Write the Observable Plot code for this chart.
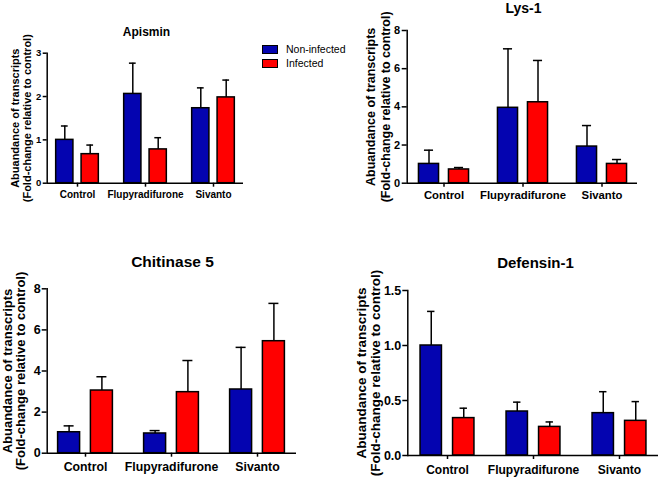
<!DOCTYPE html>
<html>
<head>
<meta charset="utf-8">
<script src="https://cdn.jsdelivr.net/npm/d3@7"></script>
<script src="https://cdn.jsdelivr.net/npm/@observablehq/plot@0.6"></script>
<style>
  body { margin: 0; background: #fff; }
  #wrap { position: relative; width: 659px; height: 477px; background: #fff; font-family: "Liberation Sans", Arial, sans-serif; overflow: hidden; }
  .panel { position: absolute; }
  .legend { position: absolute; left: 262px; top: 42px; font-size: 10.5px; color: #000; }
  .legend .row { display: flex; align-items: center; height: 14px; }
  .legend .sw { width: 14px; height: 7px; border: 1px solid #000; margin-right: 8px; }
</style>
</head>
<body>
<div id="wrap"></div>
<script>
// ---------- data ----------
const groups = ["Control", "Flupyradifurone", "Sivanto"];
const seriesNames = ["Non-infected", "Infected"];
const geneNames = ["Apismin", "Lys-1", "Chitinase 5", "Defensin-1"];
const yLabelLines = ["Abuandance of transcripts", "(Fold-change relative to control)"];

const apisminNonInfected = [1.00, 2.06, 1.73];
const apisminNonInfectedErr = [0.32, 0.71, 0.47];
const apisminInfected = [0.67, 0.78, 1.98];
const apisminInfectedErr = [0.21, 0.27, 0.40];

const lys1NonInfected = [1.01, 3.95, 1.92];
const lys1NonInfectedErr = [0.72, 3.09, 1.10];
const lys1Infected = [0.72, 4.24, 1.01];
const lys1InfectedErr = [0.10, 2.19, 0.23];

const chitinase5NonInfected = [1.02, 0.96, 3.10];
const chitinase5NonInfectedErr = [0.31, 0.14, 2.05];
const chitinase5Infected = [3.05, 2.97, 5.45];
const chitinase5InfectedErr = [0.67, 1.54, 1.84];

const defensin1NonInfected = [1.00, 0.40, 0.385];
const defensin1NonInfectedErr = [0.31, 0.085, 0.195];
const defensin1Infected = [0.34, 0.26, 0.315];
const defensin1InfectedErr = [0.09, 0.045, 0.175];

const yTicksApismin = [0, 1, 2, 3];
const yTicksLys1 = [0, 2, 4, 6, 8];
const yTicksChitinase5 = [0, 2, 4, 6, 8];
const yTicksDefensin1 = [0, 0.5, 1.0, 1.5];

const colors = ["#0404b0", "#ff0000"];

function table(ni, niErr, inf, infErr) {
  const rows = [];
  groups.forEach((g, i) => {
    rows.push({group: g, series: seriesNames[0], mean: ni[i], upper: ni[i] + niErr[i]});
    rows.push({group: g, series: seriesNames[1], mean: inf[i], upper: inf[i] + infErr[i]});
  });
  return rows;
}

const geneData = [
  {name: geneNames[0], rows: table(apisminNonInfected, apisminNonInfectedErr, apisminInfected, apisminInfectedErr), ticks: yTicksApismin, fmt: d => d3.format("d")(d)},
  {name: geneNames[1], rows: table(lys1NonInfected, lys1NonInfectedErr, lys1Infected, lys1InfectedErr), ticks: yTicksLys1, fmt: d => d3.format("d")(d)},
  {name: geneNames[2], rows: table(chitinase5NonInfected, chitinase5NonInfectedErr, chitinase5Infected, chitinase5InfectedErr), ticks: yTicksChitinase5, fmt: d => d3.format("d")(d)},
  {name: geneNames[3], rows: table(defensin1NonInfected, defensin1NonInfectedErr, defensin1Infected, defensin1InfectedErr), ticks: yTicksDefensin1, fmt: d => d3.format(".1f")(d)}
];

// ---------- layout (page pixels) ----------
const layouts = [
  {left: 0, top: 0, width: 330, height: 215, axisX: 46.7, axisRight: 243, y0: 182.7, yTop: 52.7,
   c0: 76.7, step: 68.25, off: 12.7, bw: 17.5, cap: 7,
   titleX: 146, titleY: 32, titleSize: 12, labelX: 21, labelSize: 11, labelLH: 1.09,
   tickFont: 9.5, tickSize: 4, tickPad: 2, xFont: 10, xPad: 3.5},
  {left: 330, top: 0, width: 329, height: 215, axisX: 406.7, axisRight: 637, y0: 182.7, yTop: 30,
   c0: 442.5, step: 79.9, off: 15, bw: 21, cap: 10,
   titleX: 523, titleY: 8, titleSize: 14, labelX: 377.5, labelSize: 12.5, labelLH: 1.2,
   tickFont: 11, tickSize: 5, tickPad: 2, xFont: 11.3, xPad: 4},
  {left: 0, top: 230, width: 330, height: 247, axisX: 46.7, axisRight: 296, y0: 452.7, yTop: 288.3,
   c0: 85.3, step: 86, off: 16.4, bw: 22, cap: 10,
   titleX: 172, titleY: 262, titleSize: 15.5, labelX: 14, labelSize: 13, labelLH: 1.03,
   tickFont: 12.5, tickSize: 5, tickPad: 1.5, xFont: 12.3, xPad: 5.5},
  {left: 330, top: 230, width: 329, height: 247, axisX: 407.3, axisRight: 658, y0: 455, yTop: 290,
   c0: 446.25, step: 86.6, off: 16.25, bw: 22, cap: 8,
   titleX: 535, titleY: 263, titleSize: 15, labelX: 368.3, labelSize: 13.5, labelLH: 0.99,
   tickFont: 12.5, tickSize: 5, tickPad: 1.5, xFont: 12, xPad: 5.5}
];

const wrap = document.getElementById("wrap");

geneData.forEach((gd, k) => {
  const L = layouts[k];
  const ml = L.axisX - L.left;
  const mt = L.yTop - L.top;
  const mb = L.top + L.height - L.y0;
  const mr = L.left + L.width - L.axisRight;
  const cs = L.c0 - L.left;
  const r0 = cs - L.step / 2;
  const r1 = r0 + L.step * groups.length;
  const half = L.step / 2;
  const yMax = gd.ticks[gd.ticks.length - 1];

  const marks = [];
  seriesNames.forEach((s, j) => {
    const sign = j === 0 ? -1 : 1;
    const rows = gd.rows.filter(d => d.series === s);
    const inL = half + sign * L.off - L.bw / 2;
    const inR = half - sign * L.off - L.bw / 2;
    const capL = half + sign * L.off - L.cap / 2;
    const capR = half - sign * L.off - L.cap / 2;
    marks.push(Plot.ruleX(rows, {x: "group", y1: "mean", y2: "upper", dx: sign * L.off, stroke: "#000", strokeWidth: 1.5}));
    marks.push(Plot.tickY(rows, {x: "group", y: "upper", insetLeft: capL, insetRight: capR, stroke: "#000", strokeWidth: 1.5}));
    marks.push(Plot.barY(rows, {x: "group", y: "mean", fill: colors[j], stroke: "#000", strokeWidth: 1.5, insetLeft: inL, insetRight: inR}));
  });
  marks.push(Plot.ruleY([0], {stroke: "#000", strokeWidth: 1.5}));
  marks.push(Plot.frame({anchor: "left", stroke: "#000", strokeWidth: 1.5}));
  marks.push(Plot.axisY({ticks: gd.ticks, tickFormat: gd.fmt, tickSize: L.tickSize, tickPadding: L.tickPad,
    fontSize: L.tickFont, fontWeight: "bold", strokeWidth: 1.5, label: null}));
  marks.push(Plot.axisX({tickSize: 4, tickPadding: L.xPad, fontSize: L.xFont, fontWeight: "bold", strokeWidth: 1.5, label: null}));
  marks.push(Plot.text([gd.name], {frameAnchor: "top-left", text: d => d, dx: L.titleX - L.axisX, dy: L.titleY - L.yTop,
    fontSize: L.titleSize, fontWeight: "bold", textAnchor: "middle", lineAnchor: "middle", fill: "#000"}));
  marks.push(Plot.text([yLabelLines.join("\n")], {frameAnchor: "left", text: d => d, rotate: -90, dx: L.labelX - L.axisX,
    fontSize: L.labelSize, fontWeight: "bold", textAnchor: "middle", lineAnchor: "middle", lineHeight: L.labelLH, fill: "#000"}));

  const chart = Plot.plot({
    width: L.width, height: L.height,
    marginLeft: ml, marginTop: mt, marginBottom: mb, marginRight: mr,
    style: {background: "transparent", fontFamily: "'Liberation Sans', Arial, sans-serif", color: "#000", overflow: "visible"},
    x: {type: "band", domain: groups, range: [r0, r1], padding: 0, axis: null},
    y: {domain: [0, yMax], axis: null},
    marks
  });
  chart.classList.add("panel");
  chart.style.position = "absolute";
  chart.style.left = L.left + "px";
  chart.style.top = L.top + "px";
  chart.style.maxWidth = "none";
  wrap.appendChild(chart);
});

// legend
const legend = document.createElement("div");
legend.className = "legend";
seriesNames.forEach((s, j) => {
  const row = document.createElement("div");
  row.className = "row";
  const sw = document.createElement("div");
  sw.className = "sw";
  sw.style.background = colors[j];
  const t = document.createElement("span");
  t.textContent = s;
  row.appendChild(sw);
  row.appendChild(t);
  legend.appendChild(row);
});
wrap.appendChild(legend);
</script>
</body>
</html>
